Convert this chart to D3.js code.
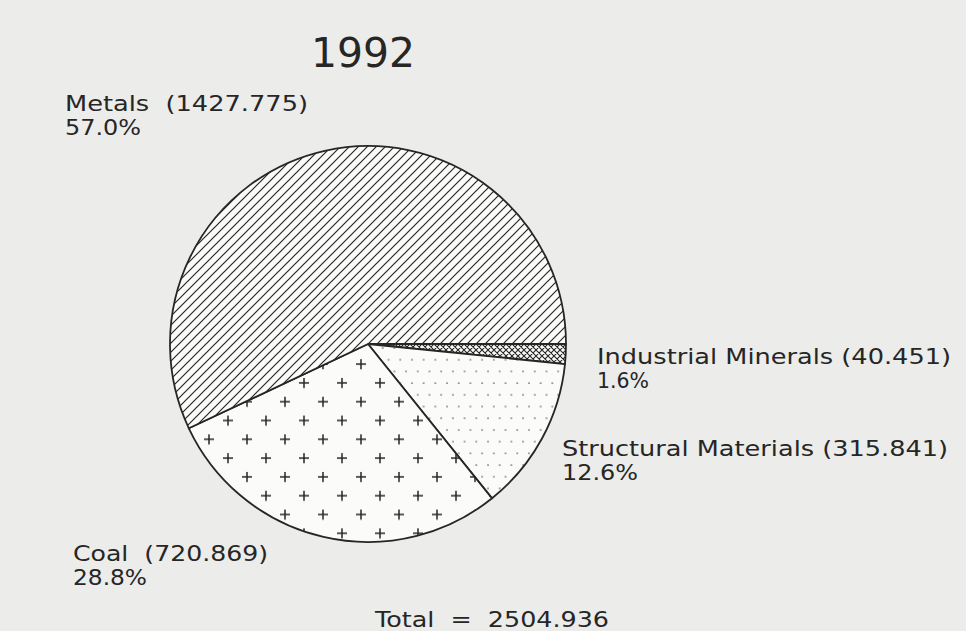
<!DOCTYPE html>
<html>
<head>
<meta charset="utf-8">
<script src="https://cdn.jsdelivr.net/npm/d3@7"></script>
<style>
  html, body { margin: 0; padding: 0; background: #ececea; }
  svg { display: block; }
  text { font-family: "DejaVu Sans", sans-serif; fill: #262626; white-space: pre; }
</style>
</head>
<body>
<div id="chart"></div>
<script>
// 1992 pie, plotter style: hatched slices, labels outside.

const title = "1992";
const categories = ["Industrial Minerals", "Structural Materials", "Coal", "Metals"];
const values = [40.451, 315.841, 720.869, 1427.775];
const percents = ["1.6%", "12.6%", "28.8%", "57.0%"];
const totalLabel = "Total  =  2504.936";

const W = 966, H = 631;
const cx = 368, cy = 344, R = 198;
const INK = "#262626";

// label placement (x, baseline of first line, widths of the two lines, gap before value)
const labelPos = {
  "Industrial Minerals":  { x: 597, y: 364, w: 354, w2: 52, gap: " " },
  "Structural Materials": { x: 562, y: 456, w: 386, w2: 76, gap: " " },
  "Coal":                 { x: 73,  y: 561, w: 195, w2: 74, gap: "  " },
  "Metals":               { x: 65,  y: 111, w: 243, w2: 76, gap: "  " }
};
const fillFor = {
  "Industrial Minerals": "url(#xhatch)",
  "Structural Materials": "url(#dots)",
  "Coal": "url(#plus)",
  "Metals": "url(#hatch)"
};

const svg = d3.select("#chart").append("svg")
  .attr("width", W)
  .attr("height", H);

const defs = svg.append("defs");

// diagonal lines
const hatch = defs.append("pattern")
  .attr("id", "hatch")
  .attr("patternUnits", "userSpaceOnUse")
  .attr("width", 9).attr("height", 9);
hatch.append("rect").attr("width", 9).attr("height", 9).attr("fill", "#fbfbfa");
hatch.append("path")
  .attr("d", "M-1,1 l2,-2 M0,9 l9,-9 M8,10 l2,-2")
  .attr("stroke", INK).attr("stroke-width", 1.2);

// cross hatch
const xh = defs.append("pattern")
  .attr("id", "xhatch")
  .attr("patternUnits", "userSpaceOnUse")
  .attr("width", 6).attr("height", 6);
xh.append("rect").attr("width", 6).attr("height", 6).attr("fill", "#fbfbfa");
xh.append("path")
  .attr("d", "M-1,1 l2,-2 M0,6 l6,-6 M5,7 l2,-2 M-1,5 l2,2 M0,0 l6,6 M5,-1 l2,2")
  .attr("stroke", INK).attr("stroke-width", 1.1);

// staggered dots
const dots = defs.append("pattern")
  .attr("id", "dots")
  .attr("patternUnits", "userSpaceOnUse")
  .attr("x", 1).attr("y", 2)
  .attr("width", 11.7).attr("height", 23.4);
dots.append("rect").attr("width", 11.7).attr("height", 23.4).attr("fill", "#fbfbfa");
dots.append("circle").attr("cx", 2).attr("cy", 2).attr("r", 0.85).attr("fill", "#666");
dots.append("circle").attr("cx", 7.85).attr("cy", 13.7).attr("r", 0.85).attr("fill", "#666");

// staggered plus signs
const plus = defs.append("pattern")
  .attr("id", "plus")
  .attr("patternUnits", "userSpaceOnUse")
  .attr("x", 2).attr("y", -8.6)
  .attr("width", 38).attr("height", 37.6);
plus.append("rect").attr("width", 38).attr("height", 37.6).attr("fill", "#fbfbfa");
plus.append("path")
  .attr("d", "M5,10 h10 M10,5 v10 M24,28.8 h10 M29,23.8 v10")
  .attr("stroke", INK).attr("stroke-width", 1.5);

const pie = d3.pie()
  .sort(null)
  .value(d => d.value)
  .startAngle(Math.PI / 2)
  .endAngle(Math.PI / 2 + 2 * Math.PI);

const data = categories.map((c, i) => ({ name: c, value: values[i], pct: percents[i] }));
const arcs = pie(data);
const arc = d3.arc().innerRadius(0).outerRadius(R);

const g = svg.append("g").attr("transform", `translate(${cx},${cy})`);

g.selectAll("path.slice")
  .data(arcs)
  .enter()
  .append("path")
  .attr("class", "slice")
  .attr("d", arc)
  .attr("fill", d => fillFor[d.data.name])
  .attr("stroke", INK)
  .attr("stroke-width", 1.8)
  .attr("stroke-linejoin", "round");

// title
svg.append("text")
  .attr("x", 363).attr("y", 67)
  .attr("text-anchor", "middle")
  .attr("font-size", 41)
  .attr("textLength", 104)
  .attr("lengthAdjust", "spacingAndGlyphs")
  .text(title);

// labels
data.forEach(d => {
  const p = labelPos[d.name];
  svg.append("text")
    .attr("x", p.x).attr("y", p.y)
    .attr("font-size", 21.5)
    .attr("textLength", p.w)
    .attr("lengthAdjust", "spacingAndGlyphs")
    .text(`${d.name}${p.gap}(${d.value.toFixed(3)})`);
  svg.append("text")
    .attr("x", p.x).attr("y", p.y + 24)
    .attr("font-size", 21.5)
    .attr("textLength", p.w2)
    .attr("lengthAdjust", "spacingAndGlyphs")
    .text(d.pct);
});

svg.append("text")
  .attr("x", 375).attr("y", 627)
  .attr("font-size", 21.5)
  .attr("textLength", 234)
  .attr("lengthAdjust", "spacingAndGlyphs")
  .text(totalLabel);
</script>
</body>
</html>
